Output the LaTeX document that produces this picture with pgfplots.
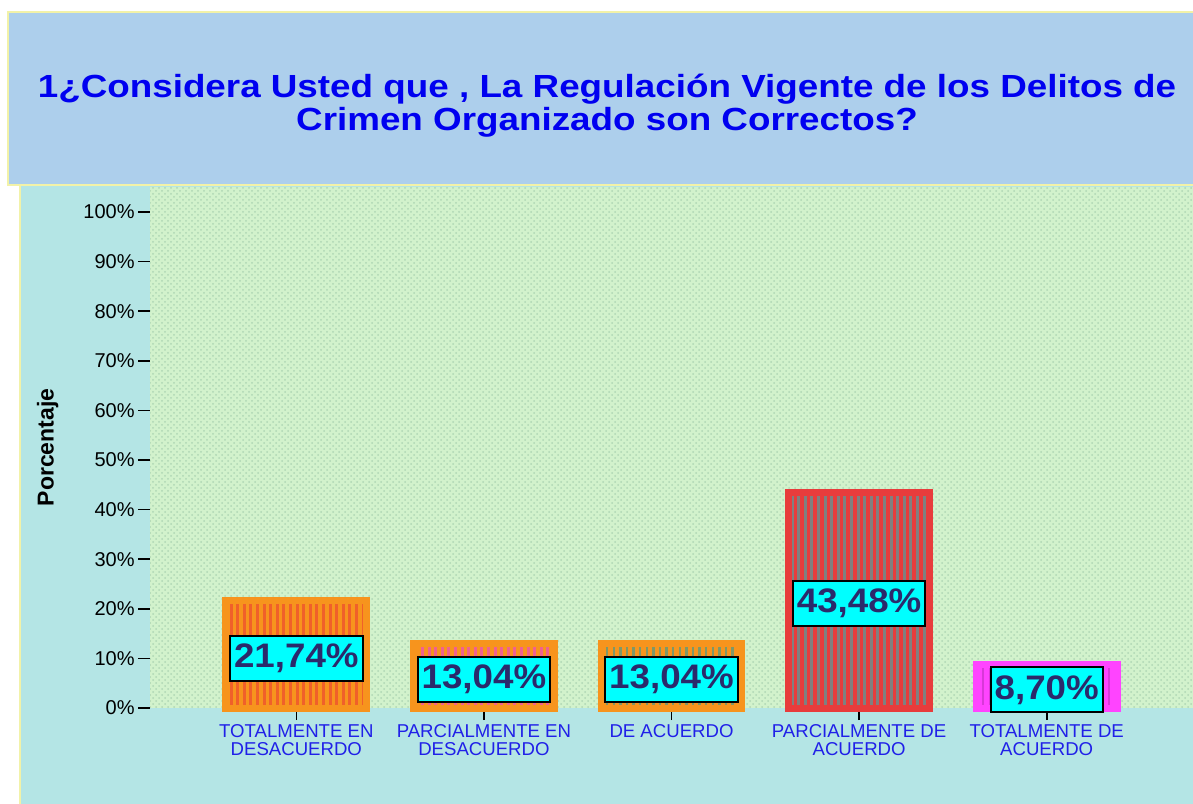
\documentclass[border=0pt]{standalone}
\usepackage{pgfplots}
\pgfplotsset{compat=1.18}
\usepackage{fontspec}
\setmainfont{Liberation Sans}
\newfontfamily\widefont[FakeStretch=1.15]{Liberation Sans}
\newfontfamily\labfont[FakeStretch=1.08]{Liberation Sans}
\usetikzlibrary{patterns,patterns.meta}
\definecolor{titlebg}{HTML}{ADCFEC}
\definecolor{titleborder}{HTML}{F2F2A8}
\definecolor{chartbg}{HTML}{B4E5E5}
\definecolor{plotbg}{HTML}{D2F2CC}
\definecolor{plotdot}{HTML}{AFD6B4}
\definecolor{titleblue}{HTML}{0000F0}
\definecolor{tickblue}{HTML}{2020E8}
\definecolor{labtext}{HTML}{2B2A6B}
\definecolor{labfill}{RGB}{0,255,255}
\definecolor{cbase}{HTML}{F7941D}
\definecolor{sA}{HTML}{F0602A}
\definecolor{sB}{HTML}{F06090}
\definecolor{sC}{HTML}{7E9868}
\definecolor{rbase}{HTML}{E83C3C}
\definecolor{sD}{HTML}{808080}
\definecolor{mbase}{HTML}{FF44FF}
\definecolor{sE}{HTML}{D838D8}
\begin{document}
\begin{tikzpicture}[x=1pt,y=1pt]
\useasboundingbox (0,0) rectangle (596.5,401.5);
\fill[white] (0,0) rectangle (596.5,401.5);
\filldraw[fill=chartbg, draw=titleborder, line width=0.8pt] (10,-2) rectangle (599,309);
\filldraw[fill=titlebg, draw=titleborder, line width=0.8pt] (4,309) rectangle (599,395.5);
\node[font=\widefont\bfseries\fontsize{16}{16.5}\selectfont, text=titleblue, align=center] at (303.5,348.5)
  {1¿Considera Usted que , La Regulación Vigente de los Delitos de\\Crimen Organizado son Correctos?};
\begin{axis}[
  at={(75pt,47.5pt)}, anchor=south west,
  scale only axis, width=521.5pt, height=260.5pt,
  xmin=-0.78, xmax=4.78, ymin=0, ymax=105.04,
  axis background/.style={preaction={fill=plotbg}, pattern=crosshatch dots, pattern color=plotdot},
  axis line style={draw=none},
  tick align=outside, xtick pos=bottom, ytick pos=left,
  major tick length=6pt,
  every tick/.style={black, line width=0.8pt},
  xtick={0,1,2,3,4},
  xticklabels={{TOTALMENTE EN\\DESACUERDO},{PARCIALMENTE EN\\DESACUERDO},{DE ACUERDO},{PARCIALMENTE DE\\ACUERDO},{TOTALMENTE DE\\ACUERDO}},
  xticklabel style={font=\fontsize{9.3}{9}\selectfont, text=tickblue, align=center, anchor=north, inner ysep=2pt},
  ytick={0,10,...,100},
  yticklabel={\pgfmathprintnumber{\tick}\%},
  yticklabel style={font=\fontsize{10}{12}\selectfont, inner xsep=1.5pt},
  /pgf/number format/assume math mode=true,
  ylabel={Porcentaje},
  ylabel style={font=\bfseries\fontsize{11.5}{13}\selectfont, at={(axis description cs:-0.098,0.5)}, anchor=center},
  ybar, bar width=0.75, bar shift=0pt,
  clip=false,
]
\addplot[preaction={fill=cbase}, draw=cbase, line width=3.5pt, pattern={Lines[angle=90,distance=3.3pt,line width=1.5pt]}, pattern color=sA] coordinates {(0,21.74)};
\addplot[preaction={fill=cbase}, draw=cbase, line width=3.5pt, pattern={Lines[angle=90,distance=3.3pt,line width=1.5pt]}, pattern color=sB] coordinates {(1,13.04)};
\addplot[preaction={fill=cbase}, draw=cbase, line width=3.5pt, pattern={Lines[angle=90,distance=3.3pt,line width=1.2pt]}, pattern color=sC] coordinates {(2,13.04)};
\addplot[preaction={fill=rbase}, draw=rbase, line width=3.5pt, pattern={Lines[angle=90,distance=3.3pt,line width=1.5pt]}, pattern color=sD] coordinates {(3,43.48)};
\addplot[preaction={fill=mbase}, draw=mbase, line width=3.5pt, pattern={Lines[angle=90,distance=3.3pt,line width=1pt]}, pattern color=sE] coordinates {(4,8.70)};
\addplot[only marks, mark=none, point meta=explicit symbolic,
  nodes near coords,
  every node near coord/.style={anchor=center, fill=labfill, draw=black, line width=1pt,
    text=labtext, font=\labfont\bfseries\fontsize{17}{20}\selectfont, inner xsep=2pt, minimum height=22.5pt}]
  coordinates {(0,10.08)[21,74\%] (1,5.75)[13,04\%] (2,5.75)[13,04\%] (3,21.07)[43,48\%] (4,3.63)[8,70\%]};
\end{axis}
\end{tikzpicture}
\end{document}
